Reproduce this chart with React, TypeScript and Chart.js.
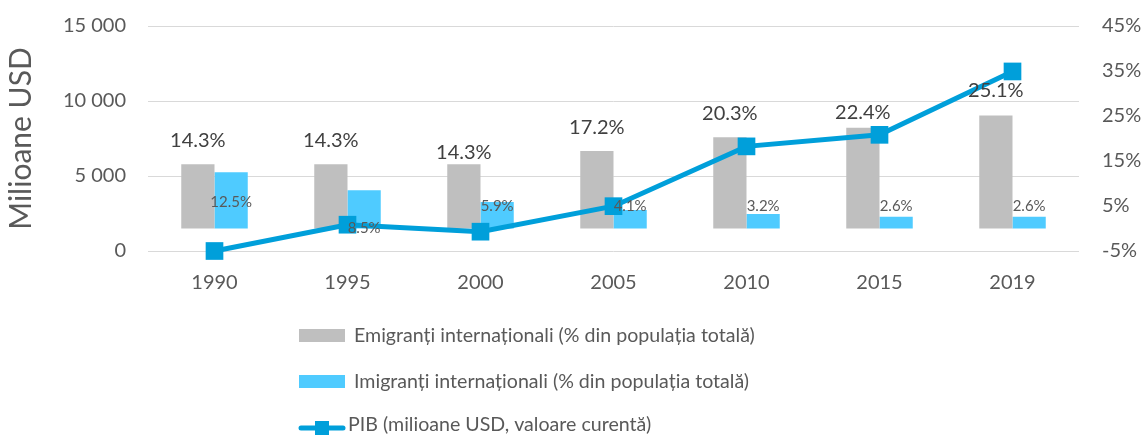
import React, { useEffect, useRef } from "react";
import { Chart, registerables } from "chart.js";

Chart.register(...registerables);

const years = ["1990", "1995", "2000", "2005", "2010", "2015", "2019"];
const emigrants = [14.3, 14.3, 14.3, 17.2, 20.3, 22.4, 25.1];
const immigrants = [12.5, 8.5, 5.9, 4.1, 3.2, 2.6, 2.6];
const gdp = [0, 1753, 1288, 2988, 6975, 7745, 11970];
const leftTicks = [0, 5000, 10000, 15000];
const rightTicks = [-5, 5, 15, 25, 35, 45];
const seriesNames = [
  "Emigranți internaționali (% din populația totală)",
  "Imigranți internaționali (% din populația totală)",
  "PIB (milioane USD, valoare curentă)",
];
const axisTitle = "Milioane USD";

// label placement (as in the reference)
const emiLabelLift = [24, 24, 12, 24, 24, 15, 25];
const immLabelLevel = [5.8, 0, 4.9, 4.9, 4.9, 5, 5];

const FONT = "Lato, 'Open Sans', sans-serif";
const GREY = "#BFBFBF";
const CYAN = "#4FCBFF";
const BLUE = "#009FDA";
const TEXT = "#595959";
const CLEAR = "rgba(0,0,0,0)";

const fmtPct = (v: number) => v.toFixed(1) + "%";
const fmtNum = (v: number) => String(v).replace(/\B(?=(\d{3})+(?!\d))/g, " ");

const labelPlugin = {
  id: "valueLabels",
  afterDatasetsDraw(chart: any) {
    const ctx = chart.ctx;
    const emiMeta = chart.getDatasetMeta(0);
    const immMeta = chart.getDatasetMeta(1);
    const y1 = chart.scales.y1;
    ctx.save();
    ctx.textAlign = "center";
    ctx.textBaseline = "middle";
    ctx.font = `20px ${FONT}`;
    ctx.fillStyle = "#404040";
    emiMeta.data.forEach((bar: any, i: number) => {
      ctx.fillText(fmtPct(emigrants[i]), bar.x, bar.y - emiLabelLift[i]);
    });
    ctx.font = `15px ${FONT}`;
    ctx.fillStyle = TEXT;
    immMeta.data.forEach((bar: any, i: number) => {
      ctx.fillText(fmtPct(immigrants[i]), bar.x, y1.getPixelForValue(immLabelLevel[i]));
    });
    ctx.restore();
  },
};

const legendPlugin = {
  id: "vertLegend",
  afterDraw(chart: any) {
    const ctx = chart.ctx;
    ctx.save();
    ctx.font = `19.6px ${FONT}`;
    ctx.textBaseline = "middle";
    ctx.textAlign = "left";
    // item 1
    ctx.fillStyle = GREY;
    ctx.fillRect(299, 329, 46, 13);
    ctx.fillStyle = TEXT;
    ctx.fillText(seriesNames[0], 354, 336);
    // item 2
    ctx.fillStyle = CYAN;
    ctx.fillRect(299, 375, 46, 13);
    ctx.fillStyle = TEXT;
    ctx.fillText(seriesNames[1], 354, 382);
    // item 3
    ctx.strokeStyle = BLUE;
    ctx.lineWidth = 5;
    ctx.lineCap = "round";
    ctx.beginPath();
    ctx.moveTo(301, 428);
    ctx.lineTo(343, 428);
    ctx.stroke();
    ctx.fillStyle = BLUE;
    ctx.fillRect(315, 421, 14, 14);
    ctx.fillStyle = TEXT;
    ctx.fillText(seriesNames[2], 348, 425);
    ctx.restore();
  },
};

export default function App() {
  const ref = useRef<HTMLCanvasElement>(null);
  useEffect(() => {
    document.body.style.margin = "0";
    const canvas = ref.current!;
    const chart = new Chart(canvas, {
      type: "bar",
      data: {
        labels: years,
        datasets: [
          {
            type: "bar",
            label: seriesNames[0],
            data: emigrants,
            backgroundColor: GREY,
            yAxisID: "y1",
            categoryPercentage: 0.5,
            barPercentage: 1,
            order: 2,
          },
          {
            type: "bar",
            label: seriesNames[1],
            data: immigrants,
            backgroundColor: CYAN,
            yAxisID: "y1",
            categoryPercentage: 0.5,
            barPercentage: 1,
            order: 2,
          },
          {
            type: "line",
            label: seriesNames[2],
            data: gdp,
            borderColor: BLUE,
            backgroundColor: BLUE,
            borderWidth: 5,
            pointStyle: "rect",
            pointRadius: 12.5,
            pointBorderWidth: 0,
            pointBackgroundColor: BLUE,
            yAxisID: "y",
            order: 1,
            tension: 0,
            clip: false,
          } as any,
        ],
      },
      options: {
        responsive: false,
        animation: false,
        layout: { autoPadding: false, padding: { top: 26, left: 0, right: 0, bottom: 0 } },
        plugins: {
          legend: { display: false },
          tooltip: { enabled: false },
        },
        scales: {
          x: {
            grid: { display: false },
            border: { display: false },
            ticks: { color: TEXT, font: { family: FONT, size: 20 }, padding: 12 },
            afterFit: (s: any) => {
              s.height = 186;
            },
          },
          y: {
            position: "left",
            min: 0,
            max: 15000,
            afterBuildTicks: (s: any) => {
              s.ticks = leftTicks.map((v) => ({ value: v }));
            },
            ticks: {
              color: TEXT,
              font: { family: FONT, size: 20 },
              padding: 0,
              callback: (v: any) => fmtNum(Number(v)),
            },
            grid: {
              color: "#D9D9D9",
              lineWidth: 1,
              drawTicks: true,
              tickLength: 22,
              tickColor: CLEAR,
            },
            border: { display: false },
            title: {
              display: true,
              text: axisTitle,
              color: TEXT,
              font: { family: FONT, size: 30, weight: "normal" },
              padding: { top: 3, bottom: 0 },
            },
            afterFit: (s: any) => {
              s.width = 148;
            },
          },
          y1: {
            position: "right",
            min: -5,
            max: 45,
            afterBuildTicks: (s: any) => {
              s.ticks = rightTicks.map((v) => ({ value: v }));
            },
            ticks: {
              color: TEXT,
              font: { family: FONT, size: 20 },
              padding: 0,
              callback: (v: any) => `${v}%`,
            },
            grid: {
              display: true,
              color: CLEAR,
              drawOnChartArea: false,
              drawTicks: true,
              tickLength: 23,
              tickColor: CLEAR,
            },
            border: { display: false },
            afterFit: (s: any) => {
              s.width = 66;
            },
          },
        },
      } as any,
      plugins: [labelPlugin, legendPlugin],
    });
    return () => chart.destroy();
  }, []);
  return (
    <div style={{ width: 1145, height: 437 }}>
      <canvas ref={ref} width={1145} height={437} />
    </div>
  );
}
